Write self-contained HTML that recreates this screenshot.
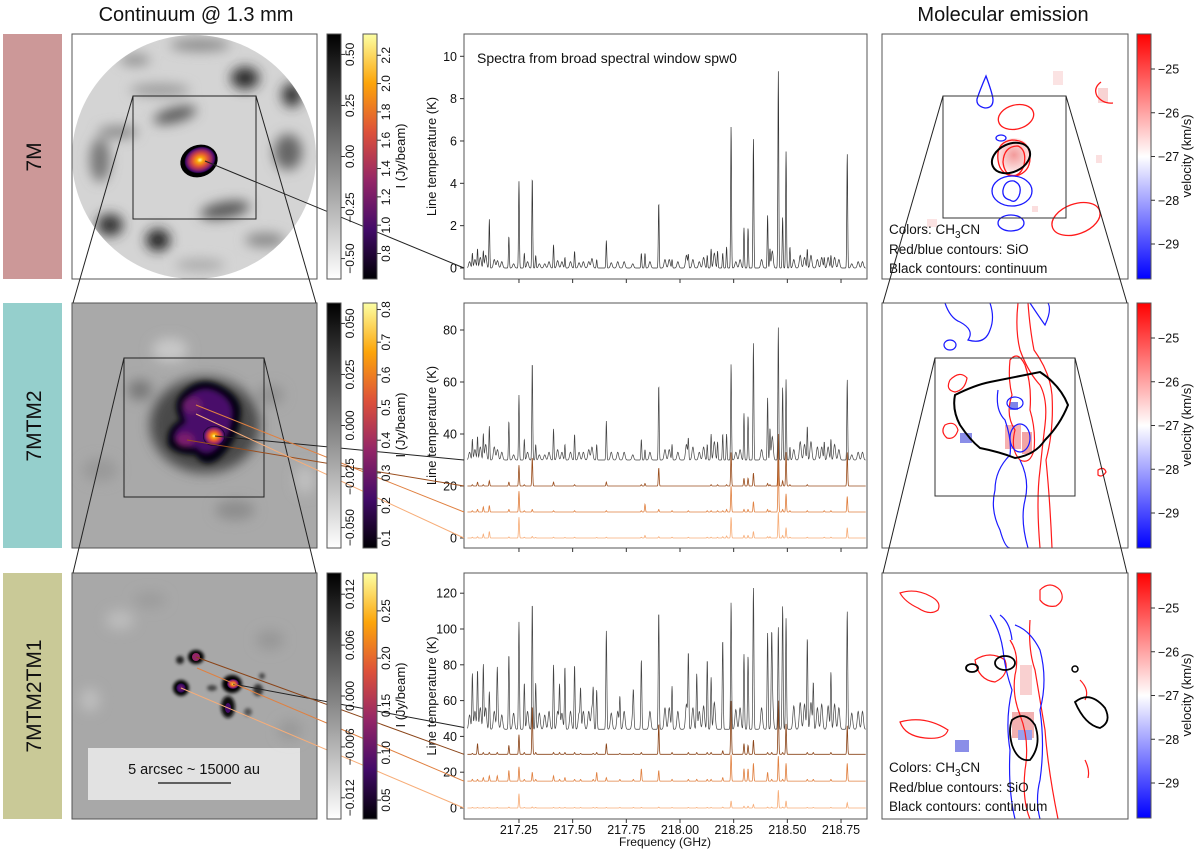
<!DOCTYPE html>
<html><head><meta charset="utf-8">
<style>
html,body{margin:0;padding:0;background:#fff;}
svg text{font-family:"Liberation Sans","DejaVu Sans",sans-serif;fill:#111;}
</style></head>
<body>
<svg id="fig" width="1200" height="852" viewBox="0 0 1200 852" xmlns="http://www.w3.org/2000/svg">
<defs>
  <linearGradient id="gGrey" x1="0" y1="1" x2="0" y2="0"><stop offset="0" stop-color="#ffffff"/><stop offset="1" stop-color="#000000"/></linearGradient>
  <linearGradient id="gInferno" x1="0" y1="1" x2="0" y2="0">
    <stop offset="0" stop-color="#000004"/><stop offset="0.2" stop-color="#420a68"/><stop offset="0.4" stop-color="#932667"/>
    <stop offset="0.6" stop-color="#dd513a"/><stop offset="0.8" stop-color="#fca50a"/><stop offset="1" stop-color="#fcffa4"/></linearGradient>
  <linearGradient id="gBwr" x1="0" y1="1" x2="0" y2="0"><stop offset="0" stop-color="#0000ff"/><stop offset="0.5" stop-color="#ffffff"/><stop offset="1" stop-color="#ff0000"/></linearGradient>
  <radialGradient id="gBlob" cx="0.5" cy="0.5" r="0.5">
    <stop offset="0" stop-color="#fcffa4"/><stop offset="0.2" stop-color="#fca50a"/><stop offset="0.5" stop-color="#dd513a"/><stop offset="0.75" stop-color="#932667"/><stop offset="0.92" stop-color="#420a68"/><stop offset="1" stop-color="#000004"/></radialGradient>
  <radialGradient id="gPurple" cx="0.5" cy="0.5" r="0.5">
    <stop offset="0" stop-color="#7a1f6d"/><stop offset="0.7" stop-color="#420a68"/><stop offset="1" stop-color="#0a0420"/></radialGradient>
  <radialGradient id="gPink" cx="0.5" cy="0.5" r="0.5"><stop offset="0" stop-color="#f39a9a"/><stop offset="1" stop-color="#fde7e7"/></radialGradient>
  <filter id="blur6" x="-50%" y="-50%" width="200%" height="200%"><feGaussianBlur stdDeviation="6"/></filter>
  <filter id="blur3" x="-50%" y="-50%" width="200%" height="200%"><feGaussianBlur stdDeviation="3"/></filter>
  <filter id="blur2" x="-50%" y="-50%" width="200%" height="200%"><feGaussianBlur stdDeviation="1.5"/></filter>
  <clipPath id="cCircle"><circle cx="194" cy="157" r="122"/></clipPath>
  <clipPath id="cImg2"><rect x="72" y="303" width="245" height="245"/></clipPath>
  <clipPath id="cImg3"><rect x="72" y="573" width="245" height="246"/></clipPath>
  <clipPath id="cR1"><rect x="882" y="34" width="246" height="245"/></clipPath>
  <clipPath id="cR2"><rect x="882" y="303" width="246" height="245"/></clipPath>
  <clipPath id="cR3"><rect x="882" y="573" width="246" height="246"/></clipPath>
</defs>

<text x="196" y="21" font-size="20" text-anchor="middle">Continuum @ 1.3 mm</text>
<text x="1003" y="21" font-size="20" text-anchor="middle">Molecular emission</text>

<g>
  <rect x="3" y="34" width="59" height="245" fill="#cc9898"/>
  <text transform="translate(41,157) rotate(-90)" font-size="21" text-anchor="middle">7M</text>
</g>
<g>
  <rect x="3" y="303" width="59" height="245" fill="#95cfcc"/>
  <text transform="translate(41,426) rotate(-90)" font-size="21" text-anchor="middle">7MTM2</text>
</g>
<g>
  <rect x="3" y="573" width="59" height="246" fill="#c9c997"/>
  <text transform="translate(41,696) rotate(-90)" font-size="21" text-anchor="middle">7MTM2TM1</text>
</g>

<g>
  <g clip-path="url(#cCircle)">
    <rect x="70" y="33" width="250" height="250" fill="#d4d4d4"/>
    <g filter="url(#blur6)">
      <ellipse cx="245" cy="78" rx="14" ry="11" fill="#2a2a2a"/>
      <ellipse cx="292" cy="95" rx="10" ry="12" fill="#333"/>
      <ellipse cx="175" cy="115" rx="22" ry="7" fill="#555" transform="rotate(-15 175 115)"/>
      <ellipse cx="160" cy="90" rx="30" ry="6" fill="#999"/>
      <ellipse cx="288" cy="152" rx="14" ry="18" fill="#666"/>
      <ellipse cx="100" cy="160" rx="10" ry="22" fill="#777"/>
      <ellipse cx="118" cy="132" rx="20" ry="6" fill="#888"/>
      <ellipse cx="225" cy="210" rx="25" ry="8" fill="#555" transform="rotate(-10 225 210)"/>
      <ellipse cx="110" cy="225" rx="13" ry="11" fill="#333"/>
      <ellipse cx="158" cy="240" rx="12" ry="11" fill="#222"/>
      <ellipse cx="265" cy="240" rx="20" ry="7" fill="#888"/>
      <ellipse cx="200" cy="45" rx="30" ry="6" fill="#888"/>
      <ellipse cx="135" cy="60" rx="15" ry="5" fill="#888"/>
      <ellipse cx="200" cy="265" rx="25" ry="6" fill="#aaa"/>
    </g>
    <ellipse cx="199" cy="161" rx="19" ry="16" fill="#000" transform="rotate(-20 199 161)"/>
    <ellipse cx="200" cy="160" rx="16" ry="13" fill="url(#gBlob)" transform="rotate(-20 200 160)"/>
  </g>
  <rect x="72" y="34" width="245" height="245" fill="none" stroke="#555" stroke-width="1"/>
  <rect x="133" y="96" width="123" height="123" fill="none" stroke="#222" stroke-width="1"/>
</g>

<g>
  <g clip-path="url(#cImg2)">
    <rect x="70" y="300" width="250" height="250" fill="#a9a9a9"/>
    <g filter="url(#blur6)">
      <ellipse cx="170" cy="350" rx="18" ry="12" fill="#c8c8c8"/>
      <ellipse cx="305" cy="480" rx="10" ry="14" fill="#c0c0c0"/>
      <ellipse cx="140" cy="390" rx="12" ry="10" fill="#777"/>
      <ellipse cx="205" cy="425" rx="55" ry="48" fill="#4a4a4a"/>
      <ellipse cx="270" cy="395" rx="14" ry="10" fill="#939393"/>
      <ellipse cx="235" cy="510" rx="20" ry="10" fill="#8d8d8d"/>
      <ellipse cx="100" cy="470" rx="18" ry="12" fill="#9a9a9a"/>
    </g>
    <g filter="url(#blur3)">
      <path d="M180 395 Q200 372 225 388 Q245 400 240 420 Q238 440 220 458 Q205 470 195 455 Q175 455 168 445 Q165 428 180 420 Q172 405 180 395Z" fill="#050510"/>
    </g>
    <g filter="url(#blur3)">
      <path d="M186 398 Q202 382 220 393 Q236 403 232 420 Q230 437 215 450 Q205 458 196 448 Q180 448 174 440 Q172 430 186 422 Q178 408 186 398Z" fill="#4a0e6a"/>
      <ellipse cx="192" cy="405" rx="10" ry="8" fill="#6b1a6e"/>
      <ellipse cx="185" cy="440" rx="9" ry="7" fill="#7a1f6d"/>
    </g>
    <ellipse cx="214" cy="436" rx="11" ry="10" fill="url(#gBlob)"/>
  </g>
  <rect x="72" y="303" width="245" height="245" fill="none" stroke="#555" stroke-width="1"/>
  <rect x="124" y="358" width="140" height="139" fill="none" stroke="#222" stroke-width="1"/>
</g>

<g>
  <g clip-path="url(#cImg3)">
    <rect x="70" y="570" width="250" height="252" fill="#a8a8a8"/>
    <g filter="url(#blur6)">
      <ellipse cx="120" cy="620" rx="14" ry="10" fill="#bcbcbc"/>
      <ellipse cx="270" cy="640" rx="14" ry="10" fill="#989898"/>
      <ellipse cx="90" cy="700" rx="10" ry="12" fill="#bdbdbd"/>
      <ellipse cx="290" cy="730" rx="12" ry="10" fill="#999"/>
      <ellipse cx="150" cy="600" rx="16" ry="8" fill="#9c9c9c"/>
    </g>
    <g filter="url(#blur2)">
      <ellipse cx="196" cy="657" rx="8" ry="7" fill="#000"/>
      <ellipse cx="180" cy="660" rx="4" ry="4" fill="#222"/>
      <ellipse cx="181" cy="688" rx="8" ry="8" fill="#000"/>
      <ellipse cx="232" cy="684" rx="10" ry="9" fill="#000"/>
      <ellipse cx="228" cy="707" rx="7" ry="11" fill="#111"/>
      <ellipse cx="258" cy="690" rx="5" ry="6" fill="#333"/>
      <ellipse cx="212" cy="688" rx="5" ry="3" fill="#444"/>
      <ellipse cx="248" cy="712" rx="4" ry="4" fill="#555"/>
      <ellipse cx="262" cy="676" rx="3" ry="3" fill="#444"/>
    </g>
    <ellipse cx="196" cy="657" rx="4" ry="4" fill="#932667"/>
    <ellipse cx="181" cy="688" rx="5" ry="5" fill="url(#gPurple)"/>
    <ellipse cx="233" cy="684" rx="6" ry="5" fill="url(#gBlob)"/>
    <ellipse cx="228" cy="708" rx="3" ry="5" fill="#420a68"/>
    <rect x="88" y="748" width="212" height="52" fill="#e8e8e8" fill-opacity="0.9"/>
    <text x="194" y="774" font-size="14.5" text-anchor="middle">5 arcsec ~ 15000 au</text>
    <line x1="158" y1="783" x2="231" y2="783" stroke="#111" stroke-width="1.2"/>
  </g>
  <rect x="72" y="573" width="245" height="246" fill="none" stroke="#555" stroke-width="1"/>
</g>

<g stroke="#222" stroke-width="1">
  <line x1="133" y1="96" x2="73" y2="303"/><line x1="256" y1="96" x2="316" y2="303"/>
  <line x1="124" y1="358" x2="73" y2="573"/><line x1="264" y1="358" x2="316" y2="573"/>
</g>

<g>
  <rect x="882" y="34" width="246" height="245" fill="#fff"/>
  <g clip-path="url(#cR1)">
    <rect x="1053" y="71" width="10" height="14" fill="#fbe3e3"/><rect x="1098" y="88" width="10" height="15" fill="#f8d3d3"/>
    <rect x="1096" y="155" width="6" height="8" fill="#fbe0e0"/><rect x="927" y="219" width="10" height="8" fill="#fbe3e3"/>
    <rect x="1032" y="206" width="6" height="6" fill="#fbdede"/>
    <circle cx="1014" cy="155" r="17" fill="url(#gPink)"/>
    <g fill="none" stroke-width="1.3">
      <path d="M986 76 Q993 95 993 100 Q993 108 985 108 Q976 106 977 99 Q980 90 986 76Z" stroke="#1a1aff"/>
      <ellipse cx="1016" cy="117" rx="18" ry="12" stroke="#ff1a1a" transform="rotate(-15 1016 117)"/>
      <ellipse cx="1001" cy="138" rx="5" ry="3" stroke="#1a1aff"/>
      <path d="M998 160 Q996 142 1012 140 Q1030 140 1030 158 Q1030 172 1016 176 Q1000 176 998 160Z" stroke="#ff1a1a"/>
      <path d="M1003 162 Q1004 146 1018 146 Q1027 150 1024 165 Q1020 178 1010 175 Q1004 172 1003 162Z" stroke="#ff1a1a"/>
      <ellipse cx="1012" cy="191" rx="20" ry="15" stroke="#1a1aff"/>
      <path d="M1003 190 Q1005 180 1014 181 Q1023 185 1019 196 Q1015 204 1010 200 Q1002 198 1003 190Z" stroke="#1a1aff"/>
      <ellipse cx="1011" cy="223" rx="13" ry="8" stroke="#1a1aff"/>
      <ellipse cx="1076" cy="219" rx="25" ry="15" stroke="#ff1a1a" transform="rotate(-20 1076 219)"/>
      <path d="M1101 82 Q1093 88 1097 96 Q1103 104 1113 103" stroke="#ff1a1a"/>
      <ellipse cx="1011" cy="158" rx="20" ry="14" stroke="#000" stroke-width="2" transform="rotate(-25 1011 158)"/>
    </g>
  </g>
  <rect x="882" y="34" width="246" height="245" fill="none" stroke="#555"/>
  <rect x="943" y="96" width="123" height="122" fill="none" stroke="#333"/>
  <text x="889" y="234" font-size="13.5">Colors: CH<tspan font-size="10" dy="4">3</tspan><tspan dy="-4">CN</tspan></text>
  <text x="889" y="254" font-size="13.5">Red/blue contours: SiO</text>
  <text x="889" y="273" font-size="13.5">Black contours: continuum</text>
</g>

<g>
  <rect x="882" y="303" width="246" height="245" fill="#fff"/>
  <g clip-path="url(#cR2)">
    <rect x="1005" y="425" width="16" height="24" fill="#f6b0b0"/>
    <rect x="1022" y="432" width="10" height="22" fill="#f3a4a4"/>
    <rect x="960" y="433" width="12" height="10" fill="#8a8ee8"/>
    <rect x="1010" y="402" width="8" height="8" fill="#7d84ea"/>
    <g fill="none" stroke-width="1.2">
      <path d="M945 303 Q950 318 960 322 Q975 330 968 340 Q985 345 990 330 Q995 318 990 303" stroke="#1a1aff"/>
      <path d="M1030 303 Q1040 318 1045 325 Q1052 310 1048 303" stroke="#1a1aff"/>
      <path d="M1018 303 Q1015 330 1020 350 Q1028 372 1040 385 Q1048 400 1045 425 Q1042 450 1040 470 Q1036 500 1040 548" stroke="#ff1a1a"/>
      <path d="M1028 303 Q1030 330 1034 350 Q1050 372 1052 395 Q1054 430 1046 460 Q1050 500 1052 548" stroke="#ff1a1a"/>
      <path d="M1010 360 Q1008 380 1012 395 Q1005 415 1015 430 Q1010 450 1020 460 Q1030 465 1034 450 Q1036 430 1030 410 Q1032 385 1025 365 Q1018 350 1010 360Z" stroke="#ff1a1a"/>
      <path d="M998 390 Q995 410 1005 420 Q1012 440 1010 455 Q995 470 995 490 Q990 510 1000 530 Q1005 548 1010 548" stroke="#1a1aff"/>
      <path d="M1020 460 Q1030 480 1025 500 Q1020 520 1028 548" stroke="#1a1aff"/>
      <ellipse cx="1015" cy="403" rx="8" ry="6" stroke="#1a1aff"/>
      <ellipse cx="1020" cy="438" rx="10" ry="14" stroke="#1a1aff"/>
      <path d="M950 380 Q960 370 967 378 Q965 390 955 392 Q945 390 950 380Z" stroke="#ff1a1a"/>
      <path d="M945 425 Q955 420 958 430 Q955 440 947 438 Q940 432 945 425Z" stroke="#ff1a1a"/>
      <ellipse cx="950" cy="345" rx="6" ry="5" stroke="#1a1aff"/>
      <path d="M1098 470 Q1104 466 1106 472 Q1102 478 1098 475Z" stroke="#ff1a1a"/>
      <path d="M955 395 Q975 385 990 382 Q1010 378 1040 372 Q1060 385 1068 405 Q1060 425 1045 440 Q1035 455 1015 458 Q1000 452 980 448 Q970 440 960 425 Q952 410 955 395Z" stroke="#000" stroke-width="2"/>
    </g>
  </g>
  <rect x="882" y="303" width="246" height="245" fill="none" stroke="#555"/>
  <rect x="935" y="358" width="140" height="138" fill="none" stroke="#333"/>
</g>

<g>
  <rect x="882" y="573" width="246" height="246" fill="#fff"/>
  <g clip-path="url(#cR3)">
    <rect x="1020" y="665" width="12" height="30" fill="#f9d0d0"/>
    <rect x="1012" y="712" width="22" height="26" fill="#f2b0b0"/>
    <rect x="1018" y="730" width="14" height="10" fill="#9aa0ec"/>
    <rect x="955" y="740" width="14" height="12" fill="#8a8ee8"/>
    <g fill="none" stroke-width="1.2">
      <path d="M900 593 Q915 588 930 596 Q942 602 938 610 Q930 616 918 608 Q905 602 900 593Z" stroke="#ff1a1a"/>
      <path d="M1040 590 Q1050 580 1060 590 Q1066 600 1056 606 Q1046 608 1040 600Z" stroke="#ff1a1a"/>
      <path d="M1010 640 Q1020 655 1015 675 Q1012 695 1020 715 Q1030 740 1025 770 Q1022 800 1030 819" stroke="#ff1a1a"/>
      <path d="M1030 620 Q1028 650 1035 670 Q1040 700 1045 730 Q1048 770 1058 819" stroke="#ff1a1a"/>
      <path d="M975 660 Q990 650 1005 660 Q1010 675 995 682 Q978 680 975 660Z" stroke="#ff1a1a"/>
      <path d="M990 615 Q1000 630 1003 650 Q1005 670 1012 690 Q1005 720 1010 750 Q1008 790 1015 819" stroke="#1a1aff"/>
      <path d="M1015 625 Q1030 630 1040 650 Q1048 680 1040 710 Q1045 745 1040 780 Q1035 800 1040 819" stroke="#1a1aff"/>
      <path d="M1000 615 Q1010 622 1012 640" stroke="#1a1aff"/>
      <path d="M900 722 Q925 715 948 730 Q945 740 925 738 Q905 736 900 722Z" stroke="#ff1a1a"/>
      <path d="M1080 680 Q1090 690 1085 700" stroke="#ff1a1a"/>
      <path d="M1085 760 Q1090 770 1088 778" stroke="#ff1a1a"/>
      <ellipse cx="1005" cy="663" rx="10" ry="7" stroke="#000" stroke-width="1.8"/>
      <ellipse cx="972" cy="668" rx="6" ry="4" stroke="#000" stroke-width="1.8"/>
      <path d="M1075 702 Q1090 690 1105 708 Q1112 722 1100 728 Q1085 725 1075 702Z" stroke="#000" stroke-width="1.8"/>
      <path d="M1012 720 Q1025 710 1035 725 Q1042 745 1030 760 Q1018 762 1012 745 Q1008 730 1012 720Z" stroke="#000" stroke-width="1.8"/>
      <ellipse cx="1075" cy="669" rx="3" ry="3" stroke="#000" stroke-width="1.5"/>
    </g>
  </g>
  <rect x="882" y="573" width="246" height="246" fill="none" stroke="#555"/>
  <text x="889" y="772" font-size="13.5">Colors: CH<tspan font-size="10" dy="4">3</tspan><tspan dy="-4">CN</tspan></text>
  <text x="889" y="792" font-size="13.5">Red/blue contours: SiO</text>
  <text x="889" y="811" font-size="13.5">Black contours: continuum</text>
</g>

<g stroke="#222" stroke-width="1">
  <line x1="943" y1="96" x2="883" y2="303"/><line x1="1066" y1="96" x2="1127" y2="303"/>
  <line x1="935" y1="358" x2="883" y2="573"/><line x1="1075" y1="358" x2="1127" y2="573"/>
</g>

<g id="dyn"></g>
</svg>

<script>
// ---------- spectra data ----------
const freqTicks = [217.25, 217.50, 217.75, 218.00, 218.25, 218.50, 218.75];
const freqTickLabels = ["217.25","217.50","217.75","218.00","218.25","218.50","218.75"];
const yTicksRow1 = [0, 2, 4, 6, 8, 10];
const yTicksRow2 = [0, 20, 40, 60, 80];
const yTicksRow3 = [0, 20, 40, 60, 80, 100, 120];

const lineFreqs = [217.033,217.057,217.084,217.112,217.203,217.25,217.275,217.312,217.328,217.411,217.464,217.509,217.612,217.657,217.82,217.837,217.901,217.963,218.039,218.127,218.145,218.175,218.199,218.217,218.238,218.298,218.317,218.342,218.408,218.419,218.458,218.478,218.494,218.512,218.593,218.672,218.703,218.779];
const peaks7M = [0.7,0.9,0.8,2.3,1.5,4.1,0.7,4.3,0.6,1.1,0.5,0.8,0.4,1.3,0.7,0.7,3.1,0.4,0.6,0.6,0.9,0.8,0.7,1.0,6.7,1.9,1.9,6.1,2.5,0.9,9.3,2.4,5.5,1.0,0.9,0.5,0.6,5.4];
// weak line forest (amplitudes above baseline)
const forestFreqs1 = [217.02,217.045,217.07,217.095,217.135,217.15,217.17,217.225,217.29,217.345,217.37,217.39,217.43,217.45,217.49,217.53,217.55,217.575,217.59,217.68,217.71,217.74,217.78,217.86,217.93,217.95,217.99,218.03,218.06,218.09,218.11,218.16,218.26,218.28,218.38,218.43,218.53,218.56,218.58,218.61,218.64,218.66,218.69,218.72,218.74,218.8,218.83,218.85];
const forestAmp7M = [0.3,0.4,0.5,0.6,0.4,0.35,0.3,0.2,0.3,0.2,0.2,0.3,0.35,0.3,0.3,0.25,0.3,0.3,0.45,0.25,0.3,0.3,0.2,0.3,0.4,0.4,0.3,0.6,0.4,0.3,0.5,0.7,0.3,0.4,0.4,0.8,0.4,0.6,0.5,0.6,0.4,0.5,0.5,0.5,0.4,0.2,0.3,0.3];
const forestAmp7MTM2 = [3,4,5,6,5,4,3,2,3,2,2,3,4,3,3,3,3,4,5,3,3,3,2,3,4,4,3,6,5,3,5,7,3,4,4,9,4,7,6,7,5,5,5,6,4,2,3,3];
const forestAmp7MTM2TM1 = [8,10,12,12,10,9,8,9,10,9,8,10,10,9,10,9,10,10,12,9,10,10,8,10,12,12,10,14,12,10,13,15,11,12,12,18,13,15,14,15,12,14,13,14,12,9,10,10];
const peaks7MTM2 = [38,39,40,43,45,55,38,68,36,42,36,40,36,45,38,34,59,36,38,36,40,37,40,40,67,48,47,75,54,42,81,58,61,35,43,37,38,61];
const base7MTM2 = 30;
const peaks7MTM2a = [20.5,21.5,20.5,22,21.5,28,20.5,31,20,21.5,20,20.5,20,21.5,20.5,21,27,20,20,20,20.5,20.5,20,20.5,33,23,23,25,21,20.5,40,22,33,20.5,20.5,20,20,33];
const base7MTM2a = 20;
const peaks7MTM2b = [10.5,11,12,12.5,11,18,10.5,11,10,10.5,10,10.5,10,10.5,10.5,13,11,10.5,10.5,10.5,10.5,10.5,10.5,11,20,11,11,14,11,10.5,30,11,17,10.5,10.5,10.5,10.5,16];
const base7MTM2b = 10;
const peaks7MTM2c = [0.3,0.5,1.5,2.5,0.4,8,0.3,0.6,0.2,0.3,0.2,0.3,0.2,0.3,0.3,1,0.5,0.3,0.3,0.3,0.3,0.3,0.5,0.8,8,1,1,2.5,0.5,0.5,10,1,4,0.3,0.3,0.3,0.3,4];
const base7MTM2c = 0;

const freqs3 = [217.033,217.057,217.084,217.112,217.149,217.203,217.25,217.275,217.312,217.328,217.411,217.439,217.464,217.509,217.537,217.596,217.612,217.657,217.720,217.783,217.82,217.901,217.963,218.039,218.078,218.127,218.145,218.199,218.238,218.298,218.317,218.342,218.408,218.427,218.458,218.478,218.494,218.593,218.621,218.703,218.779];
const peaks7MTM2TM1 = [75,77,80,65,70,86,104,70,115,70,80,68,79,80,65,63,66,99,62,60,83,110,68,86,75,83,73,94,115,86,85,123,98,85,101,113,106,95,70,76,110];
const base7MTM2TM1 = 44;
const peaks7MTM2TM1a = [30.5,36,31,31,31,35,41,31,57,31,31,31,31,31,30.5,30.5,31,36,30.5,30.5,31,47,31,31,31,31,31,32,60,36,35,38,31,31,60,31,47,31,31,31,46];
const base7MTM2TM1a = 30;
const peaks7MTM2TM1b = [16,16,17,18,18,21,23,16,20,16,18,16,17,16,16,16,20,17,16,16,22,21,16,16,16,16,16,17,30,22,22,25,20,16,29,16,25,16,16,16,25];
const base7MTM2TM1b = 15;
const peaks7MTM2TM1c = [0.3,0.3,0.3,0.3,0.3,0.5,8,0.3,0.6,0.3,0.3,0.3,0.3,0.3,0.3,0.3,0.3,0.3,0.3,0.3,0.3,0.5,0.3,0.3,0.3,0.3,0.3,0.5,4,1,1,2,0.5,0.5,10,0.5,4,0.3,0.3,0.3,3];
const base7MTM2TM1c = 0;

// ---------- colorbar data ----------
const greyTicks1 = ["0.50","0.25","0.00","\u22120.25","\u22120.50"];
const greyTickVals1 = [0.5,0.25,0,-0.25,-0.5];
const infTicks1 = ["2.2","2.0","1.8","1.6","1.4","1.2","1.0","0.8"];
const infTickVals1 = [2.2,2.0,1.8,1.6,1.4,1.2,1.0,0.8];
const greyTicks2 = ["0.050","0.025","0.000","\u22120.025","\u22120.050"];
const greyTickVals2 = [0.05,0.025,0,-0.025,-0.05];
const infTicks2 = ["0.8","0.7","0.6","0.5","0.4","0.3","0.2","0.1"];
const infTickVals2 = [0.8,0.7,0.6,0.5,0.4,0.3,0.2,0.1];
const greyTicks3 = ["0.012","0.006","0.000","\u22120.006","\u22120.012"];
const greyTickVals3 = [0.012,0.006,0,-0.006,-0.012];
const infTicks3 = ["0.25","0.20","0.15","0.10","0.05"];
const infTickVals3 = [0.25,0.20,0.15,0.10,0.05];
const velTicks = ["\u221225","\u221226","\u221227","\u221228","\u221229"];
const velTickVals = [-25,-26,-27,-28,-29];

// ---------- drawing ----------
const NS = "http://www.w3.org/2000/svg";
const root = document.getElementById("dyn");
function mk(tag, parent){ const e=document.createElementNS(NS,tag); (parent||root).appendChild(e); return e; }

const FMIN = 216.994, FMAX = 218.871, XL = 464, XR = 867;
function xScale(f){ return XL + (f - FMIN) / (FMAX - FMIN) * (XR - XL); }
const rows = [
  {top:34, bot:279, y0:268, k:21.17, ticks:yTicksRow1},
  {top:303, bot:548, y0:538, k:2.6, ticks:yTicksRow2},
  {top:573, bot:819, y0:808, k:1.79, ticks:yTicksRow3}
];
function yScale(r, v){ return r.y0 - v * r.k; }

// layer: {freqs, amps, w}  (amps = height above baseline)
function layerValue(f, L){
  let v = 0;
  for (let i=0;i<L.freqs.length;i++){ const d=(f-L.freqs[i])/L.w; if (Math.abs(d)<5) v += L.amps[i]*Math.exp(-d*d); }
  return v;
}
function rel(arr, base){ return arr.map(h => h - base); }
function drawSpectrum(r, base, layers, color, sw, name){
  const N = 1600; let d = "";
  for (let i=0;i<=N;i++){
    const f = 217.01 + (218.865-217.01)*i/N;
    let v = base;
    layers.forEach(L => { v += layerValue(f, L); });
    d += (i?"L":"M") + xScale(f).toFixed(2) + " " + yScale(r, v).toFixed(2);
  }
  const p = mk("path");
  p.setAttribute("d", d); p.setAttribute("fill","none"); p.setAttribute("stroke", color); p.setAttribute("stroke-width", sw);
  
  
  return p;
}

rows.forEach((r, ri) => {
  const g = mk("g");
  
  
  const bx = mk("rect", g);
  bx.setAttribute("x", XL); bx.setAttribute("y", r.top); bx.setAttribute("width", XR-XL); bx.setAttribute("height", r.bot-r.top);
  bx.setAttribute("fill","#fff"); bx.setAttribute("stroke","#555");
  r.ticks.forEach(t => {
    const y = yScale(r, t);
    const tl = mk("line", g); tl.setAttribute("x1", XL-4); tl.setAttribute("x2", XL); tl.setAttribute("y1", y); tl.setAttribute("y2", y); tl.setAttribute("stroke","#333");
    const tx = mk("text", g); tx.setAttribute("x", XL-7); tx.setAttribute("y", y+4.5); tx.setAttribute("font-size","12.5"); tx.setAttribute("text-anchor","end"); tx.textContent = t;
    
    
  });
  freqTicks.forEach((f, i) => {
    const x = xScale(f);
    const tl = mk("line", g); tl.setAttribute("x1", x); tl.setAttribute("x2", x); tl.setAttribute("y1", r.bot); tl.setAttribute("y2", r.bot+4); tl.setAttribute("stroke","#333");
    if (ri === 2){
      const tx = mk("text", g); tx.setAttribute("x", x); tx.setAttribute("y", r.bot+15); tx.setAttribute("font-size","12.5"); tx.setAttribute("text-anchor","middle"); tx.textContent = freqTickLabels[i];
      
      
    }
  });
  const yl = mk("text", g);
  yl.setAttribute("transform", "translate(" + (XL-28) + "," + ((r.top+r.bot)/2) + ") rotate(-90)");
  yl.setAttribute("font-size","13"); yl.setAttribute("text-anchor","middle"); yl.textContent = "Line temperature (K)";
  
  
});

const xt = mk("text"); xt.setAttribute("x", 665); xt.setAttribute("y", 846); xt.setAttribute("font-size","12"); xt.setAttribute("text-anchor","middle"); xt.textContent = "Frequency (GHz)";


const st = mk("text"); st.setAttribute("x", 477); st.setAttribute("y", 63); st.setAttribute("font-size","14"); st.textContent = "Spectra from broad spectral window spw0";



const W = 0.0028, WF = 0.006;
drawSpectrum(rows[1], base7MTM2c, [{freqs:lineFreqs, amps:rel(peaks7MTM2c,base7MTM2c), w:W}], "#f7ad78", 0.8, "spectrum-7mtm2-c");
drawSpectrum(rows[1], base7MTM2b, [{freqs:lineFreqs, amps:rel(peaks7MTM2b,base7MTM2b), w:W}], "#e08040", 0.8, "spectrum-7mtm2-b");
drawSpectrum(rows[1], base7MTM2a, [{freqs:lineFreqs, amps:rel(peaks7MTM2a,base7MTM2a), w:W}], "#9a4e1e", 0.8, "spectrum-7mtm2-a");
drawSpectrum(rows[0], 0, [{freqs:lineFreqs, amps:peaks7M, w:W},{freqs:forestFreqs1, amps:forestAmp7M, w:WF}], "#333", 0.7, "spectrum-7m");
drawSpectrum(rows[1], base7MTM2, [{freqs:lineFreqs, amps:rel(peaks7MTM2,base7MTM2), w:W},{freqs:forestFreqs1, amps:forestAmp7MTM2, w:WF}], "#444", 0.7, "spectrum-7mtm2");
drawSpectrum(rows[2], base7MTM2TM1c, [{freqs:freqs3, amps:rel(peaks7MTM2TM1c,base7MTM2TM1c), w:W}], "#f7ad78", 0.8, "spectrum-7mtm2tm1-c");
drawSpectrum(rows[2], base7MTM2TM1b, [{freqs:freqs3, amps:rel(peaks7MTM2TM1b,base7MTM2TM1b), w:W}], "#e08040", 0.8, "spectrum-7mtm2tm1-b");
drawSpectrum(rows[2], base7MTM2TM1a, [{freqs:freqs3, amps:rel(peaks7MTM2TM1a,base7MTM2TM1a), w:W}], "#8a4418", 0.8, "spectrum-7mtm2tm1-a");
drawSpectrum(rows[2], base7MTM2TM1, [{freqs:freqs3, amps:rel(peaks7MTM2TM1,base7MTM2TM1), w:0.0032},{freqs:forestFreqs1, amps:forestAmp7MTM2TM1, w:WF}], "#444", 0.7, "spectrum-7mtm2tm1");

function connector(x1,y1,r,val,color,name){
  const l = mk("line"); l.setAttribute("x1",x1); l.setAttribute("y1",y1); l.setAttribute("x2",XL); l.setAttribute("y2",yScale(r,val));
  l.setAttribute("stroke",color); l.setAttribute("stroke-width","1");
  
  
}
connector(205,161,rows[0],0,"#222","connector-7m");
connector(215,436,rows[1],30,"#222","connector-7mtm2-black");
connector(187,440,rows[1],20,"#9a4e1e","connector-7mtm2-a");
connector(196,405,rows[1],10,"#e08040","connector-7mtm2-b");
connector(196,414,rows[1],0,"#f7ad78","connector-7mtm2-c");
connector(233,684,rows[2],45,"#222","connector-7mtm2tm1-black");
connector(196,657,rows[2],30,"#8a4418","connector-7mtm2tm1-a");
connector(197,668,rows[2],15,"#e08040","connector-7mtm2tm1-b");
connector(181,688,rows[2],0,"#f7ad78","connector-7mtm2tm1-c");

function colorbar(x, top, bot, grad, vals, labels, vmin, vmax, name, side){
  const g = mk("g");
  
  
  const r = mk("rect", g); r.setAttribute("x",x); r.setAttribute("y",top); r.setAttribute("width",14); r.setAttribute("height",bot-top);
  r.setAttribute("fill","url(#"+grad+")"); r.setAttribute("stroke","#555");
  vals.forEach((v,i) => {
    const y = bot - (v - vmin)/(vmax - vmin)*(bot-top);
    const t = mk("line", g); t.setAttribute("x1",x+14); t.setAttribute("x2",x+18); t.setAttribute("y1",y); t.setAttribute("y2",y); t.setAttribute("stroke","#333");
    const tx = mk("text", g);
    if (side === "h"){ tx.setAttribute("x", x+21); tx.setAttribute("y", y+4.5); tx.setAttribute("font-size","12.5"); }
    else { tx.setAttribute("transform","translate("+(x+27)+","+y+") rotate(-90)"); tx.setAttribute("font-size","12"); tx.setAttribute("text-anchor","middle"); }
    tx.textContent = labels[i];
  });
}
colorbar(327,34,279,"gGrey",greyTickVals1,greyTicks1,-0.6,0.6,"grey-colorbar-7m");
colorbar(363,34,279,"gInferno",infTickVals1,infTicks1,0.62,2.35,"inferno-colorbar-7m");
colorbar(327,303,548,"gGrey",greyTickVals2,greyTicks2,-0.06,0.06,"grey-colorbar-7mtm2");
colorbar(363,303,548,"gInferno",infTickVals2,infTicks2,0.07,0.82,"inferno-colorbar-7mtm2");
colorbar(327,573,819,"gGrey",greyTickVals3,greyTicks3,-0.0145,0.0145,"grey-colorbar-7mtm2tm1");
colorbar(363,573,819,"gInferno",infTickVals3,infTicks3,0.03,0.29,"inferno-colorbar-7mtm2tm1");
[34,303,573].forEach((top,i) => {
  colorbar(1137,top,top+245,"gBwr",velTickVals,velTicks,-29.8,-24.2,"velocity-colorbar-"+(i+1),"h");
  const lab = mk("text"); lab.setAttribute("transform","translate(1191,"+(top+122)+") rotate(-90)");
  lab.setAttribute("font-size","13"); lab.setAttribute("text-anchor","middle"); lab.textContent = "velocity (km/s)";
  
  
  const il = mk("text"); il.setAttribute("transform","translate(405,"+(top+122)+") rotate(-90)");
  il.setAttribute("font-size","13"); il.setAttribute("text-anchor","middle"); il.textContent = "I (Jy/beam)";
  
  
});
</script>
</body></html>
